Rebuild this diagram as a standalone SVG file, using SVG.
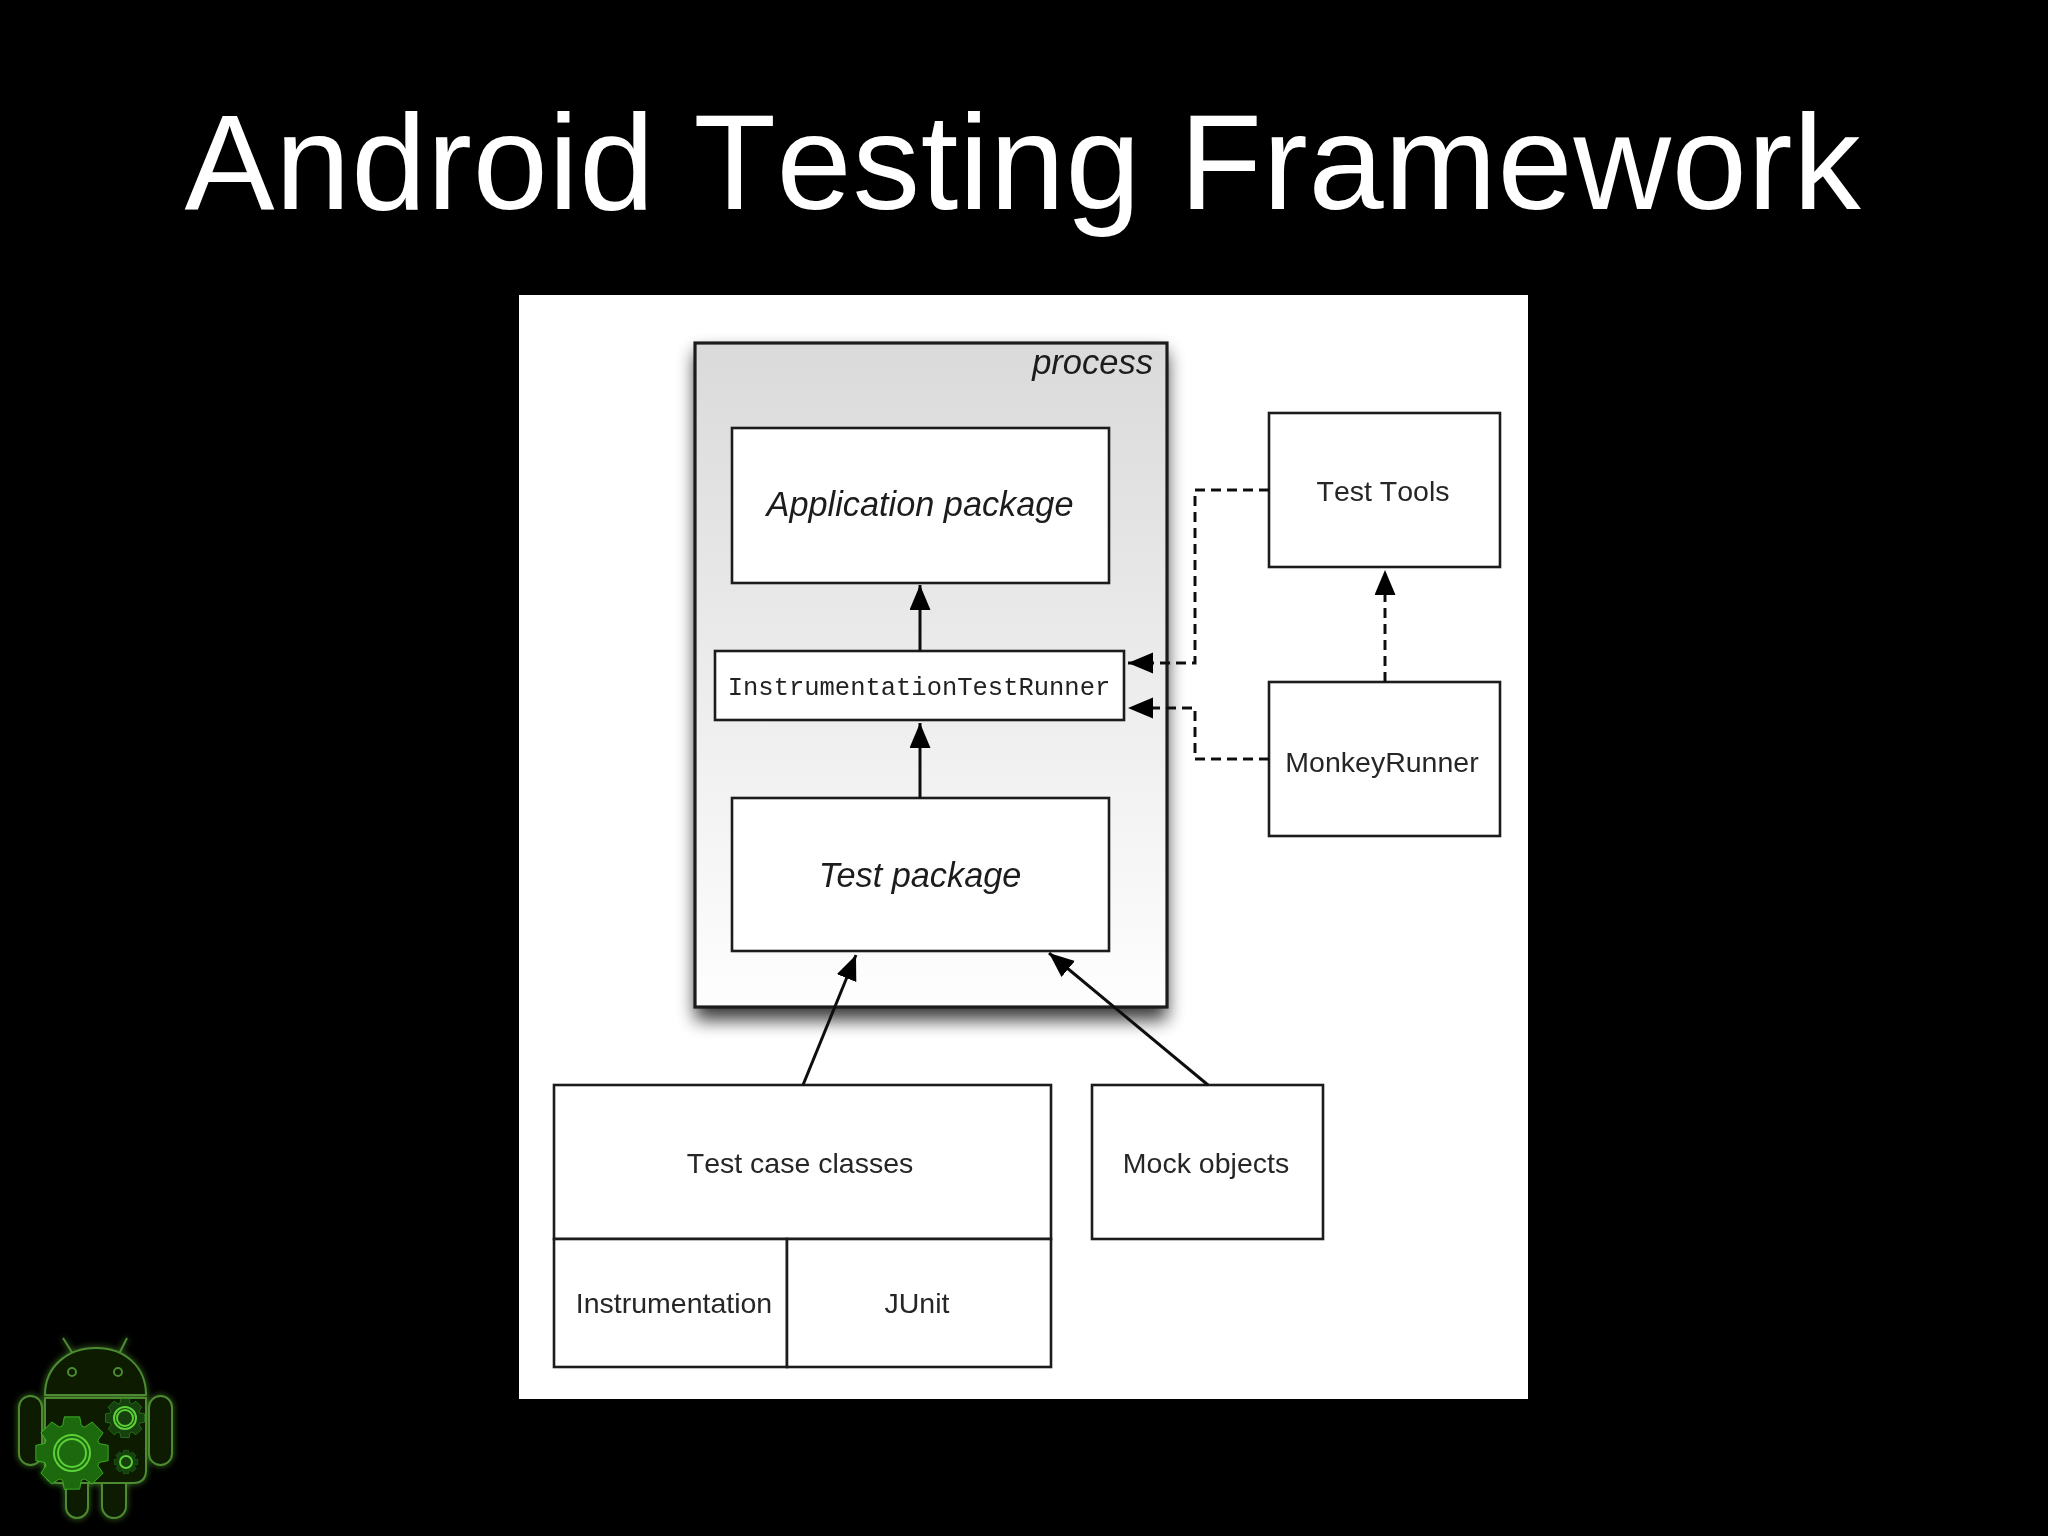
<svg xmlns="http://www.w3.org/2000/svg" width="2048" height="1536" viewBox="0 0 2048 1536">
<style>
.box{fill:#fff;stroke:#1c1c1c;stroke-width:2.6}
.t{font-family:"Liberation Sans",Arial,sans-serif;font-size:28.5px;fill:#262626;text-anchor:middle;font-kerning:none}
.i{font-family:"Liberation Sans",Arial,sans-serif;font-style:italic;font-size:34.3px;fill:#1c1c1c;text-anchor:middle}
.m{font-family:"Liberation Mono","Courier New",monospace;font-size:25.5px;fill:#222;text-anchor:middle}
.c{fill:none;stroke:#111;stroke-width:3}
.d{fill:none;stroke:#111;stroke-width:3;stroke-dasharray:10 6}
.o{fill:#081c05;stroke:#4d8a30;stroke-width:2}
.g{fill:#1c6a0e;stroke:#4cc82a;stroke-width:2;vector-effect:non-scaling-stroke}
.r{fill:none;stroke:#5cd038;stroke-width:2;vector-effect:non-scaling-stroke}
</style>
<defs>
<linearGradient id="pg" x1="0" y1="0" x2="0" y2="1"><stop offset="0" stop-color="#dadada"/><stop offset="1" stop-color="#fefefe"/></linearGradient>
<filter id="sh" x="-15%" y="-15%" width="130%" height="130%"><feGaussianBlur stdDeviation="9"/></filter>
<filter id="soft" x="-2%" y="-2%" width="104%" height="104%"><feGaussianBlur stdDeviation="0.7"/></filter>
<filter id="glow" x="-20%" y="-20%" width="140%" height="140%"><feGaussianBlur stdDeviation="3" result="b"/><feMerge><feMergeNode in="b"/><feMergeNode in="SourceGraphic"/></feMerge></filter>
<marker id="ah" markerUnits="userSpaceOnUse" markerWidth="27" markerHeight="23" refX="25" refY="10.5" orient="auto"><path d="M0 0L25 10.5L0 21z" fill="#000"/></marker>
<path id="gear" d="M-25.4-73.8L-20.8-97.8L20.8-97.8L25.4-73.8L34.2-70.1L54.5-83.9L83.9-54.5L70.1-34.2L73.8-25.4L97.8-20.8L97.8 20.8L73.8 25.4L70.1 34.2L83.9 54.5L54.5 83.9L34.2 70.1L25.4 73.8L20.8 97.8L-20.8 97.8L-25.4 73.8L-34.2 70.1L-54.5 83.9L-83.9 54.5L-70.1 34.2L-73.8 25.4L-97.8 20.8L-97.8-20.8L-73.8-25.4L-70.1-34.2L-83.9-54.5L-54.5-83.9L-34.2-70.1z"/>
</defs>
<rect width="2048" height="1536" fill="#000"/>
<text id="title" x="1023" y="209" font-family="'Liberation Sans',Arial,sans-serif" font-size="135" letter-spacing=".75" style="font-kerning:none" fill="#fff" text-anchor="middle">Android Testing Framework</text>
<rect id="panel" x="519" y="295" width="1009" height="1104" fill="#fff"/>
<g filter="url(#soft)">
<g id="process">
<rect x="695" y="352" width="472" height="668" fill="#000" opacity=".78" filter="url(#sh)"/>
<rect x="695" y="343" width="472" height="664" fill="url(#pg)" stroke="#1c1c1c" stroke-width="3.2"/>
<text x="1153" y="374" class="i" style="text-anchor:end;font-size:34.5px">process</text>
</g>
<g id="application-package"><rect class="box" x="732" y="428" width="377" height="155"/><text class="i" x="920" y="516">Application package</text></g>
<g id="instrumentation-test-runner"><rect class="box" x="715" y="651" width="409" height="69"/><text class="m" x="919" y="695">InstrumentationTestRunner</text></g>
<g id="test-package"><rect class="box" x="732" y="798" width="377" height="153"/><text class="i" x="920" y="887">Test package</text></g>
<g id="test-tools"><rect class="box" x="1269" y="413" width="231" height="154"/><text class="t" x="1383" y="501">Test Tools</text></g>
<g id="monkey-runner"><rect class="box" x="1269" y="682" width="231" height="154"/><text class="t" x="1382" y="772">MonkeyRunner</text></g>
<g id="test-case-classes"><rect class="box" x="554" y="1085" width="497" height="154"/><text class="t" x="800" y="1173">Test case classes</text></g>
<g id="instrumentation"><rect class="box" x="554" y="1239" width="233" height="128"/><text class="t" x="674" y="1313">Instrumentation</text></g>
<g id="junit"><rect class="box" x="787" y="1239" width="264" height="128"/><text class="t" x="917" y="1313">JUnit</text></g>
<g id="mock-objects"><rect class="box" x="1092" y="1085" width="231" height="154"/><text class="t" x="1206" y="1173">Mock objects</text></g>
<g id="connectors">
<path class="c" d="M920 651V585" marker-end="url(#ah)"/>
<path class="c" d="M920 798V723" marker-end="url(#ah)"/>
<path class="c" d="M803 1085L856 955" marker-end="url(#ah)"/>
<path class="c" d="M1208 1085L1049 953" marker-end="url(#ah)"/>
<path class="d" d="M1385 682V570" marker-end="url(#ah)"/>
<path class="d" d="M1269 490H1195V663H1128" marker-end="url(#ah)"/>
<path class="d" d="M1269 759H1195V708H1128" marker-end="url(#ah)"/>
</g>
</g>
<g id="android-logo" filter="url(#glow)">
<path class="o" style="fill:none" d="M63 1338L73 1354M127 1338L119 1354"/>
<path class="o" d="M45 1395C45 1366 68 1348 96 1348C124 1348 146 1366 146 1395z"/>
<circle class="o" cx="72" cy="1372" r="4"/><circle class="o" cx="118" cy="1372" r="4"/>
<path class="o" d="M45 1398H146V1470Q146 1483 133 1483H58Q45 1483 45 1470z"/>
<rect class="o" x="19" y="1396" width="23" height="69" rx="11.5"/>
<rect class="o" x="149" y="1396" width="23" height="69" rx="11.5"/>
<path class="o" d="M66 1483H88V1507A11 11 0 0 1 66 1507z"/>
<path class="o" d="M102 1483H126V1506A12 12 0 0 1 102 1506z"/>
<use href="#gear" class="g" transform="translate(72 1453) scale(.37)"/>
<circle class="r" cx="72" cy="1453" r="18"/><circle class="r" cx="72" cy="1453" r="14"/>
<use href="#gear" class="g" style="fill:#123f0b" transform="translate(125 1418) scale(.2)"/>
<circle class="r" cx="125" cy="1418" r="11"/><circle class="r" cx="125" cy="1418" r="8"/>
<use href="#gear" class="g" style="fill:#123f0b" transform="translate(126 1462) scale(.12)"/>
<circle class="r" cx="126" cy="1462" r="6"/>
</g>
</svg>
